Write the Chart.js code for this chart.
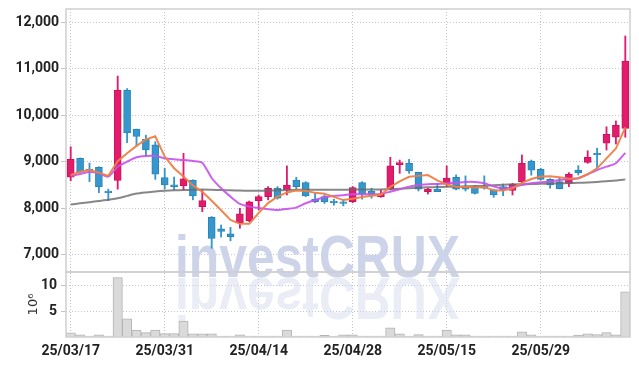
<!DOCTYPE html>
<html>
<head>
<meta charset="utf-8">
<title>Price chart</title>
<script src="https://cdn.jsdelivr.net/npm/chart.js@4.4.1/dist/chart.umd.min.js"></script>
<style>
  html, body { margin: 0; padding: 0; background: #fff; }
</style>
</head>
<body>
<canvas id="chart" width="639" height="366"></canvas>
<script>
var dates = ['25/03/17','25/03/18','25/03/19','25/03/20','25/03/21','25/03/24','25/03/25','25/03/26','25/03/27','25/03/28',
  '25/03/31','25/04/01','25/04/02','25/04/03','25/04/04','25/04/07','25/04/08','25/04/09','25/04/10','25/04/11',
  '25/04/14','25/04/15','25/04/16','25/04/17','25/04/18','25/04/21','25/04/22','25/04/23','25/04/24','25/04/25',
  '25/04/28','25/04/29','25/04/30','25/05/02','25/05/07','25/05/08','25/05/09','25/05/12','25/05/13','25/05/14',
  '25/05/15','25/05/16','25/05/19','25/05/20','25/05/21','25/05/22','25/05/23','25/05/26','25/05/27','25/05/28',
  '25/05/29','25/05/30','25/06/02','25/06/04','25/06/05','25/06/09','25/06/10','25/06/11','25/06/12','25/06/13'];

var openP  = [8665,9070,8840,8880,8370,8600,10540,9700,9480,9360, 8660,8500,8485,8605,8035,7805,7560,7450,7690,7735,
  8165,8250,8430,8395,8605,8550,8195,8250,8155,8140, 8140,8550,8370,8250,8410,8935,8965,8770,8355,8410,
  8515,8665,8465,8465,8465,8395,8465,8380,8570,9015, 8835,8620,8570,8535,8820,8985,9180,9395,9525,9715];
var highP  = [9320,9080,8970,8890,8410,10840,10570,9700,9570,9430, 8860,8670,9180,8610,8395,7820,7640,7590,8000,8155,
  8285,8465,8465,8910,8665,8570,8320,8285,8195,8180, 8465,8570,8430,8395,9095,9035,9050,8775,8430,8535,
  8910,8715,8695,8480,8695,8410,8520,8535,9145,9035, 8860,8635,8645,8765,8915,9235,9290,9750,9875,11700];
var lowP   = [8590,8770,8570,8335,8165,8410,9410,9340,9120,8620, 8415,8390,8390,8180,7925,7140,7380,7300,7570,7710,
  7965,8180,8195,8285,8410,8250,8120,8105,8065,8050, 8120,8195,8215,8235,8395,8750,8750,8370,8305,8355,
  8465,8395,8370,8305,8410,8235,8270,8285,8550,8710, 8605,8430,8415,8465,8715,8965,8860,9250,9380,9525];
var closeP = [9050,8780,8810,8460,8335,10540,9620,9540,9250,8730, 8500,8465,8630,8265,8165,7350,7500,7390,7880,8135,
  8250,8430,8215,8495,8465,8265,8135,8135,8120,8105, 8445,8300,8300,8300,8910,8980,8800,8410,8410,8355,
  8645,8410,8410,8320,8430,8285,8395,8520,8965,8820, 8620,8500,8420,8735,8765,9095,9150,9590,9780,11160];

var ma5  = [8715,8785,8822,8764,8695,9010,9180,9340,9480,9545, 9110,8860,8680,8490,8355,8160,7955,7750,7665,7665,
  7900,8110,8250,8340,8380,8375,8330,8310,8245,8175, 8205,8240,8270,8288,8458,8575,8675,8695,8712,8600,
  8512,8462,8455,8446,8453,8388,8380,8427,8545,8627, 8682,8689,8665,8632,8643,8727,8857,9070,9282,9736];
var ma10 = [8693,8736,8785,8751,8678,8893,9000,9094,9122,9122, 9073,9051,9036,9015,8979,8650,8429,8249,8092,8034,
  8005,7979,7963,7985,8013,8107,8178,8236,8264,8280, 8300,8300,8300,8307,8356,8408,8464,8500,8515,8521,
  8536,8549,8564,8564,8536,8470,8420,8450,8500,8536, 8558,8571,8607,8622,8644,8730,8822,8893,8966,9190];
var maLong = [8080,8105,8130,8155,8180,8215,8265,8315,8340,8360, 8375,8385,8390,8395,8400,8395,8390,8385,8380,8375,
  8375,8380,8385,8390,8395,8395,8395,8395,8395,8395, 8400,8400,8405,8405,8410,8420,8430,8440,8450,8455,
  8460,8465,8470,8475,8485,8495,8505,8510,8515,8520, 8525,8530,8535,8540,8545,8555,8565,8580,8595,8620];

// volume, in millions (axis 10^6)
var volume = [0.8,0.4,0.2,0.4,0.2,11.5,3.5,1.35,0.85,1.35, 0.65,0.65,3.1,0.6,0.6,0.6,0.2,0.2,0.4,0.2,
  0.2,0.2,0.2,1.35,0.2,0.2,0.2,0.3,0.2,0.4, 0.4,0.2,0.2,0.2,1.8,0.6,0.2,0.45,0.2,0.2,
  1.35,0.4,0.4,0.2,0.2,0.2,0.2,0.2,1.0,0.4, 0.2,0.2,0.2,0.2,0.35,0.6,0.45,0.85,0.4,8.75];

var priceTicks = [7000, 8000, 9000, 10000, 11000, 12000];
var volTicks = [5, 10];

var upFill = '#e31b6d', upLine = '#c9145d', downFill = '#3597cd', downLine = '#2b83b4';
var gridColor = 'rgba(165,170,195,0.7)';
var tickFont = { family: 'Roboto, sans-serif', size: 14, weight: 'bold' };

var isUp = closeP.map(function (c, i) { return c >= openP[i]; });
var bodies = openP.map(function (o, i) { return [o, closeP[i]]; });
var wicks = lowP.map(function (l, i) { return [l, highP[i]]; });

var watermark = {
  id: 'watermark',
  beforeDatasetsDraw: function (chart) {
    var c = chart.ctx, txt = 'investCRUX';
    c.save();
    c.font = 'bold 60px "Liberation Sans", sans-serif';
    c.textBaseline = 'alphabetic';
    var sx = 285 / c.measureText(txt).width;
    c.translate(175, 277);
    c.scale(sx, 1);
    c.fillStyle = 'rgba(202,209,231,0.95)';
    c.fillText(txt, 0, 0);
    c.translate(0, 1);
    c.scale(1, -1);
    c.fillStyle = 'rgba(214,219,236,0.5)';
    c.fillText(txt, 0, 0);
    c.restore();
  }
};

var frame = {
  id: 'frame',
  afterDraw: function (chart) {
    var c = chart.ctx, a = chart.chartArea, y = chart.scales.y, v = chart.scales.yVol;
    c.save();
    c.strokeStyle = '#d0d0d0';
    c.lineWidth = 1.5;
    c.strokeRect(a.left, y.top, a.right - a.left, y.bottom - y.top);
    c.strokeRect(a.left, v.top, a.right - a.left, v.bottom - v.top);
    c.restore();
  }
};

function fitLeft(s) { s.width = 66; s.paddingTop = 0; s.paddingBottom = 0; }

new Chart(document.getElementById('chart'), {
  data: {
    labels: dates,
    datasets: [
      { type: 'line', label: 'MA5', data: ma5, yAxisID: 'y', borderColor: 'rgba(238,128,70,0.95)', borderWidth: 2, pointRadius: 0, tension: 0 },
      { type: 'line', label: 'MA10', data: ma10, yAxisID: 'y', borderColor: 'rgba(198,80,236,0.9)', borderWidth: 2, pointRadius: 0, tension: 0.2 },
      { type: 'line', label: 'MA', data: maLong, yAxisID: 'y', borderColor: 'rgba(105,105,105,0.8)', borderWidth: 2, pointRadius: 0, tension: 0.2 },
      { type: 'bar', label: 'body', data: bodies, yAxisID: 'y', grouped: false, barThickness: 7,
        backgroundColor: isUp.map(function (u) { return u ? upFill : downFill; }),
        borderColor: isUp.map(function (u) { return u ? upLine : downLine; }),
        borderWidth: 1, borderSkipped: false },
      { type: 'bar', label: 'wick', data: wicks, yAxisID: 'y', grouped: false, barThickness: 1.2,
        backgroundColor: isUp.map(function (u) { return u ? upFill : downFill; }) },
      { type: 'bar', label: 'volume', data: volume, yAxisID: 'yVol', grouped: false,
        barPercentage: 1, categoryPercentage: 1,
        backgroundColor: '#dadada', borderColor: '#b4b4b4', borderWidth: 1 }
    ]
  },
  options: {
    responsive: false,
    animation: false,
    devicePixelRatio: 1,
    layout: { padding: { left: 0, right: 9, top: 9, bottom: 0 } },
    plugins: { legend: { display: false }, tooltip: { enabled: false } },
    scales: {
      x: {
        type: 'category',
        offset: true,
        grid: {
          offset: false,
          drawTicks: false,
          color: function (ctx) { return ctx.index % 10 === 0 ? gridColor : 'rgba(0,0,0,0)'; }
        },
        border: { display: false, dash: [1, 2] },
        ticks: {
          autoSkip: false, maxRotation: 0, padding: 6, color: '#222', font: tickFont,
          callback: function (v, i) { return i % 10 === 0 ? dates[i] : ''; }
        },
        afterFit: function (s) { s.height = 29; }
      },
      yVol: {
        position: 'left',
        stack: 'panes',
        stackWeight: 65,
        min: 0,
        max: 12.6,
        afterBuildTicks: function (s) { s.ticks = volTicks.map(function (v) { return { value: v }; }); },
        grid: { color: gridColor, tickLength: 5 },
        border: { display: false, dash: [1, 2] },
        ticks: { padding: 4, color: '#222', font: tickFont },
        title: { display: true, text: '10⁶', color: '#333', font: { family: '"DejaVu Sans", sans-serif', size: 13 }, padding: { top: 26, bottom: 0 } },
        afterFit: fitLeft
      },
      y: {
        position: 'left',
        stack: 'panes',
        stackWeight: 263,
        min: 6630,
        max: 12280,
        afterBuildTicks: function (s) { s.ticks = priceTicks.map(function (v) { return { value: v }; }); },
        grid: { color: gridColor, tickLength: 5 },
        border: { display: false, dash: [1, 2] },
        ticks: {
          padding: 2, color: '#222', font: tickFont,
          callback: function (v) { return v.toLocaleString('en-US'); }
        },
        afterFit: fitLeft
      }
    }
  },
  plugins: [watermark, frame]
});
</script>
</body>
</html>
